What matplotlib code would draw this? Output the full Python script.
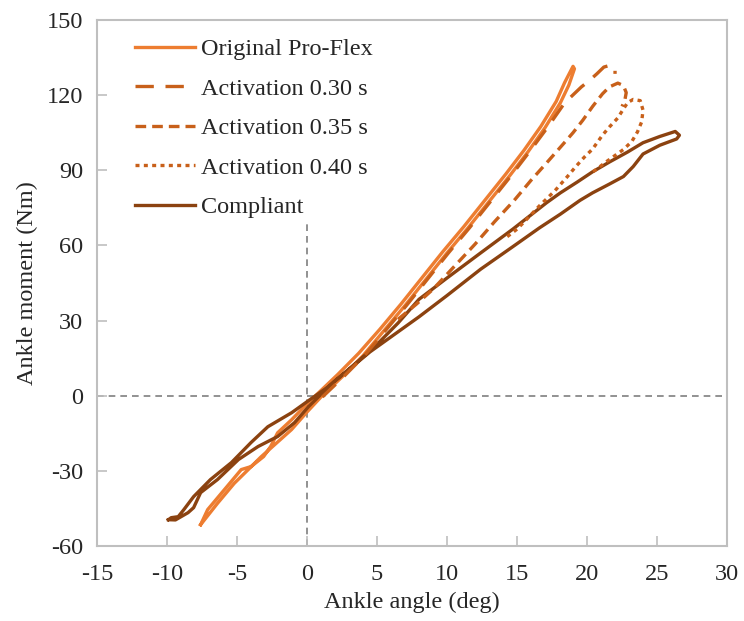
import matplotlib
matplotlib.use("Agg")
import matplotlib.pyplot as plt

plt.rcParams['font.family'] = ['Liberation Serif', 'DejaVu Serif']
plt.rcParams['axes.unicode_minus'] = False

# ankle angle (deg) / ankle moment (Nm) loops
orig_x = [-7.6, -6.4, -5.2, -4.2, -3.3, -2.4, -1.1, 0.0, 1.0, 2.5, 4.0, 5.5, 7.0, 8.5, 10.0,
          11.5, 13.0, 14.5, 15.8, 17.0, 18.1, 18.7, 19.1,
          19.0, 18.4, 17.8, 16.7, 15.5, 14.2, 12.7, 11.2, 9.7, 8.2, 6.7, 5.2, 3.7, 2.2, 0.7,
          -0.2, -1.1, -2.1, -2.6, -3.1, -4.0, -4.7, -5.9, -7.1, -7.6]
orig_y = [-51.5, -43, -35, -29.5, -24.5, -20, -13.5, -6.5, -0.5, 7.5, 16, 26, 36, 46.5, 57,
          67, 77.5, 88, 97.5, 107, 117, 124, 130.5,
          131.5, 125, 117.5, 107.5, 98, 88.5, 78, 67.5, 57.5, 47, 36.5, 26.5, 17, 8.5, 0.5,
          -4.4, -9.6, -14.8, -20.3, -24.3, -28.3, -29.5, -37.5, -45.5, -51.5]

act30_x = [1.1, 2.6, 4.1, 5.6, 7.1, 8.6, 10.1, 11.6, 13.1, 14.6, 15.9, 17.2, 18.4, 19.6,
           20.1, 20.7, 21.2, 21.7, 22.0, 22.0]
act30_y = [-0.5, 7.5, 16, 26, 36, 46.5, 57, 67, 77.5, 88, 97.5, 107.3, 116.9, 123.3,
           125.5, 128.5, 131.2, 132, 131, 128.5]

act35_x = [6.5, 7.8, 9.0, 10.5, 12.0, 13.4, 14.8, 16.0, 17.2, 18.3, 19.0, 19.7, 20.4, 21.1,
           21.6, 22.2, 22.6, 22.8, 22.7, 22.5]
act35_y = [30.5, 36.5, 42.5, 51.5, 60.5, 69.5, 78, 86, 93.5, 100.5, 105, 110, 115.5, 120.5,
           123.3, 124.8, 123.8, 121, 118, 115.5]

act40_x = [14.3, 15.0, 15.7, 16.6, 17.7, 18.6, 19.2, 19.8, 20.4, 21.1, 21.6, 22.2, 22.6, 22.9,
           23.3, 23.8, 24.0, 23.9, 23.6, 23.2, 22.6, 21.9, 21.4, 20.7, 20.2]
act40_y = [63.5, 66.5, 70.5, 75.8, 81.8, 87.5, 91.5, 95.2, 98.5, 104, 107.3, 110.9, 114.5, 117,
           118.3, 117.8, 114, 109.3, 105.3, 101.5, 98.3, 95.5, 93.5, 90.5, 88.5]

comp_x = [-9.9, -9.7, -9.2, -8.8, -8.1, -6.9, -5.4, -4.0, -2.8, -1.1, 0.1, 1.5, 3.0, 4.5, 6.5,
          8.0, 10.0, 12.4, 14.7, 16.6, 18.1, 19.5, 20.4, 21.6, 22.6, 23.3, 24.0, 25.2, 26.4,
          26.6, 26.3, 25.2, 24.0, 22.9, 21.6, 20.4, 19.3, 18.1, 17.1, 14.7, 12.4, 10.0, 8.0,
          6.5, 5.0, 3.5, 1.9, 0.1, -0.9, -2.1, -3.5, -4.9, -6.4, -7.6, -8.1, -8.5, -9.4, -9.9]
comp_y = [-49.5, -48.7, -48.3, -45.5, -40.3, -33.5, -26.7, -18.7, -12.4, -6.8, -2.0, 3.5, 10.5,
          17.5, 25.5, 31.5, 40, 50.5, 59.5, 67, 72.5, 78, 81, 84.5, 87.5, 91.5, 96.5, 100,
          102.5, 104, 105.5, 103.5, 101, 97.3, 93.3, 89.4, 85.3, 81, 77, 66.5, 57, 47, 38.5,
          29, 20.5, 13, 5.5, -4.4, -10.8, -16.3, -20.3, -25.5, -33.5, -38.7, -44.7, -46.7,
          -49.6, -49.5]

x_ticks = list(range(-15, 31, 5))
y_ticks = list(range(-60, 151, 30))

c_orig = '#ED7D31'
c_act = '#C8601A'
c_comp = '#8B4210'
grey = '#BFBFBF'
txt = '#262626'
fs = 17.5

fig = plt.figure(figsize=(7.44, 6.21), dpi=100)
ax = fig.add_axes([0.1304, 0.1208, 0.8468, 0.8470])

# zero reference lines (the vertical one runs up under the legend)
ax.axhline(0, color='#7F7F7F', lw=1.2, dashes=(4, 3), zorder=1)
ax.axvline(0, ymin=0, ymax=0.75, color='#7F7F7F', lw=1.2, dashes=(4, 3), zorder=1)

lw = 2.4
ax.plot(orig_x, orig_y, color=c_orig, lw=lw, solid_joinstyle='round', label='Original Pro-Flex', zorder=3)
ax.plot(comp_x, comp_y, color=c_comp, lw=lw, solid_joinstyle='round', label='_c', zorder=3)
ax.plot(act30_x, act30_y, color=c_act, lw=lw, dashes=(5.5, 3.5), dash_capstyle='butt',
        label='Activation 0.30 s', zorder=4)
ax.plot(act35_x, act35_y, color=c_act, lw=lw, dashes=(3.2, 1.8), dash_capstyle='butt',
        label='Activation 0.35 s', zorder=4)
ax.plot(act40_x, act40_y, color=c_act, lw=lw, dashes=(1.2, 1.3), dash_capstyle='butt',
        label='Activation 0.40 s', zorder=4)
ax.plot([], [], color=c_comp, lw=lw, label='Compliant')

ax.set_xlim(-15, 30)
ax.set_ylim(-60, 150)
ax.set_xticks(x_ticks)
ax.set_yticks(y_ticks)
ax.tick_params(direction='in', length=7, width=1.2, color=grey, labelsize=fs, labelcolor=txt)
ax.tick_params(axis='x', pad=13)
ax.tick_params(axis='y', pad=10)
for s in ax.spines.values():
    s.set_color(grey)
    s.set_linewidth(1.5)

ax.set_xlabel('Ankle angle (deg)', fontsize=fs, color=txt, labelpad=5)
ax.set_ylabel('Ankle moment (Nm)', fontsize=fs, color=txt, labelpad=6)

leg = ax.legend(loc='upper left', bbox_to_anchor=(0.052, 0.975), fontsize=fs, frameon=True,
                facecolor='white', edgecolor='none', framealpha=1.0, fancybox=False,
                handlelength=2.5, handletextpad=0.25, labelspacing=0.72, borderpad=0.2,
                borderaxespad=0)
leg.set_zorder(5)
for t in leg.get_texts():
    t.set_color(txt)

fig.savefig('out.png', dpi=100)
